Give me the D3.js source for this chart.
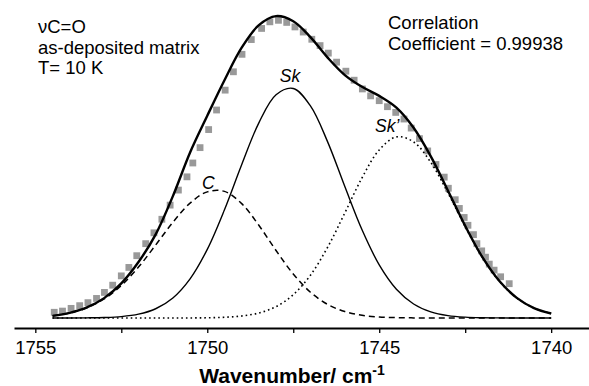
<!DOCTYPE html>
<html lang="en">
<head>
  <meta charset="UTF-8">
  <title>Curve fit of the C=O stretching band</title>
  <script src="https://d3js.org/d3.v7.min.js"></script>
  <style>
    body
    {
      margin: 0;
      padding: 0;
      background-color: #fff;
      font-family: Arial, "Liberation Sans", sans-serif;
    }

    svg
    {
      display: block;
    }
  </style>
</head>
<body>
  <svg width="589" height="386"></svg>
  <script>
    const width = 589;
    const height = 386;

    // wavenumbers (cm-1) at which the fitted curves are read
    const waveGrid = [1754.5, 1754.0, 1753.5, 1753.0, 1752.5, 1752.0, 1751.5, 1751.0, 1750.5, 1750.0,
      1749.5, 1749.0, 1748.5, 1748.0, 1747.5, 1747.0, 1746.5, 1746.0, 1745.5, 1745.0,
      1744.5, 1744.0, 1743.5, 1743.0, 1742.5, 1742.0, 1741.5, 1741.0, 1740.5, 1740.0];

    // total fit (thick line)
    const fitTotal = [0.007, 0.017, 0.035, 0.066, 0.115, 0.186, 0.278, 0.405, 0.550, 0.672,
      0.790, 0.898, 0.973, 1.003, 0.986, 0.933, 0.865, 0.807, 0.768, 0.738,
      0.699, 0.632, 0.537, 0.423, 0.306, 0.202, 0.122, 0.067, 0.033, 0.015];

    // component C (dashed)
    const compC = [0.0074, 0.0166, 0.0338, 0.0632, 0.1081, 0.1692, 0.2425, 0.3179, 0.3816, 0.4191,
      0.4206, 0.3799, 0.3080, 0.2241, 0.1463, 0.0857, 0.0451, 0.0213, 0.0090, 0.0034,
      0.0012, 0.0004, 0.0001, 0, 0, 0, 0, 0, 0, 0];

    // component Sk (thin solid)
    const compSk = [0, 0.0001, 0.0005, 0.0016, 0.0047, 0.0127, 0.0307, 0.0667, 0.1302, 0.2281,
      0.3596, 0.5093, 0.6484, 0.7417, 0.7626, 0.7047, 0.5852, 0.4367, 0.2929, 0.1766,
      0.0957, 0.0466, 0.0204, 0.0080, 0.0028, 0.0009, 0.0003, 0.0001, 0, 0];

    // component Sk' (dotted)
    const compSkp = [0, 0, 0, 0, 0, 0, 0, 0.0001, 0.0002, 0.0007,
      0.0023, 0.0066, 0.0166, 0.0379, 0.0774, 0.1423, 0.2351, 0.3490, 0.4657, 0.5584,
      0.6017, 0.5849, 0.5168, 0.4151, 0.3031, 0.2013, 0.1215, 0.0667, 0.0332, 0.0151];

    // experimental spectrum (grey squares)
    const expWave = [1754.45, 1754.21, 1753.96, 1753.71, 1753.47, 1753.22, 1752.99, 1752.75, 1752.50, 1752.28,
      1752.05, 1751.79, 1751.55, 1751.32, 1751.08, 1750.84, 1750.59, 1750.42, 1750.21, 1749.96,
      1749.73, 1749.48, 1749.24, 1748.99, 1748.72, 1748.42, 1748.18, 1747.93, 1747.69, 1747.45,
      1747.21, 1746.96, 1746.72, 1746.48, 1746.24, 1745.97, 1745.73, 1745.49, 1745.25, 1745.00,
      1744.76, 1744.52, 1744.28, 1744.07, 1743.83, 1743.59, 1743.35, 1743.11, 1742.99, 1742.79,
      1742.67, 1742.53, 1742.42, 1742.26, 1742.16, 1742.02, 1741.91, 1741.80, 1741.66, 1741.47,
      1741.22];
    const expAbs = [0.019, 0.023, 0.032, 0.041, 0.051, 0.065, 0.085, 0.109, 0.140, 0.168,
      0.207, 0.247, 0.283, 0.328, 0.375, 0.425, 0.469, 0.515, 0.566, 0.626,
      0.691, 0.757, 0.818, 0.876, 0.925, 0.962, 0.984, 0.989, 0.982, 0.967,
      0.950, 0.926, 0.905, 0.880, 0.850, 0.820, 0.790, 0.761, 0.738, 0.722,
      0.702, 0.683, 0.661, 0.631, 0.596, 0.555, 0.510, 0.468, 0.431, 0.393,
      0.364, 0.334, 0.308, 0.277, 0.247, 0.223, 0.202, 0.179, 0.159, 0.137,
      0.114];

    const tickValues = [1755, 1752.5, 1750, 1747.5, 1745, 1742.5, 1740];
    const tickLabels = ["1755", "", "1750", "", "1745", "", "1740"];

    const svg = d3.select("svg")
      .attr("viewBox", [0, 0, width, height]);

    const x = d3.scaleLinear()
      .domain([1755.62, 1738.9])
      .range([14, 589]);

    const y = d3.scaleLinear()
      .domain([0, 1])
      .range([318, 17]);

    // grey squares first, lines on top
    const expPoints = expWave.map((w, i) => ({ w, a: expAbs[i] }));
    svg.append("g")
      .selectAll("rect")
      .data(expPoints)
      .enter()
      .append("rect")
      .attr("x", d => x(d.w) - 3.4)
      .attr("y", d => y(d.a) - 3.4)
      .attr("width", 6.8)
      .attr("height", 6.8)
      .attr("fill", "#999");

    const line = d3.line()
      .x(d => x(d[0]))
      .y(d => y(d[1]))
      .curve(d3.curveCatmullRom);

    const series = [
      { values: compC, width: 1.5, dash: "6,4" },
      { values: compSkp, width: 1.6, dash: "1.6,3" },
      { values: compSk, width: 1.4, dash: null },
      { values: fitTotal, width: 2.4, dash: null }
    ];

    svg.append("g")
      .selectAll("path")
      .data(series)
      .enter()
      .append("path")
      .attr("d", s => line(waveGrid.map((w, i) => [w, s.values[i]])))
      .attr("fill", "none")
      .attr("stroke", "#000")
      .attr("stroke-width", s => s.width)
      .attr("stroke-dasharray", s => s.dash);

    // x axis
    const axis = svg.append("g")
      .attr("transform", "translate(0,328)")
      .call(d3.axisBottom(x)
        .tickValues(tickValues)
        .tickFormat((d, i) => tickLabels[i])
        .tickSize(5)
        .tickSizeOuter(0));

    axis.select(".domain")
      .attr("stroke-width", 2.2);
    axis.selectAll(".tick line")
      .attr("stroke-width", 1.3);
    axis.selectAll(".tick text")
      .attr("dy", null)
      .attr("y", 26)
      .attr("font-size", 18.5)
      .attr("font-family", "Arial, 'Liberation Sans', sans-serif")
      .attr("fill", "#000");

    const title = svg.append("text")
      .attr("x", 292)
      .attr("y", 383)
      .attr("text-anchor", "middle")
      .attr("font-size", 21)
      .attr("font-weight", "bold");
    title.append("tspan").text("Wavenumber/ cm");
    title.append("tspan")
      .attr("dy", -8)
      .attr("font-size", 14)
      .text("-1");

    // text block top left
    const notes = ["\u03BDC=O", "as-deposited matrix", "T= 10 K"];
    svg.append("g")
      .selectAll("text")
      .data(notes)
      .enter()
      .append("text")
      .attr("x", 38)
      .attr("y", (d, i) => 33 + i * 20.6)
      .attr("font-size", 18.5)
      .text(d => d);

    const corr = ["Correlation", "Coefficient = 0.99938"];
    svg.append("g")
      .selectAll("text")
      .data(corr)
      .enter()
      .append("text")
      .attr("x", 388)
      .attr("y", (d, i) => 28.5 + i * 21.5)
      .attr("font-size", 18.5)
      .text(d => d);

    // component labels, anchored in data units
    const peakLabels = [
      { text: "C", w: 1750.15, a: 0.43 },
      { text: "Sk", w: 1747.89, a: 0.785 },
      { text: "Sk\u2019", w: 1745.12, a: 0.617 }
    ];
    svg.append("g")
      .selectAll("text")
      .data(peakLabels)
      .enter()
      .append("text")
      .attr("x", d => x(d.w))
      .attr("y", d => y(d.a))
      .attr("font-size", 17.5)
      .attr("font-style", "italic")
      .text(d => d.text);
  </script>
</body>
</html>
